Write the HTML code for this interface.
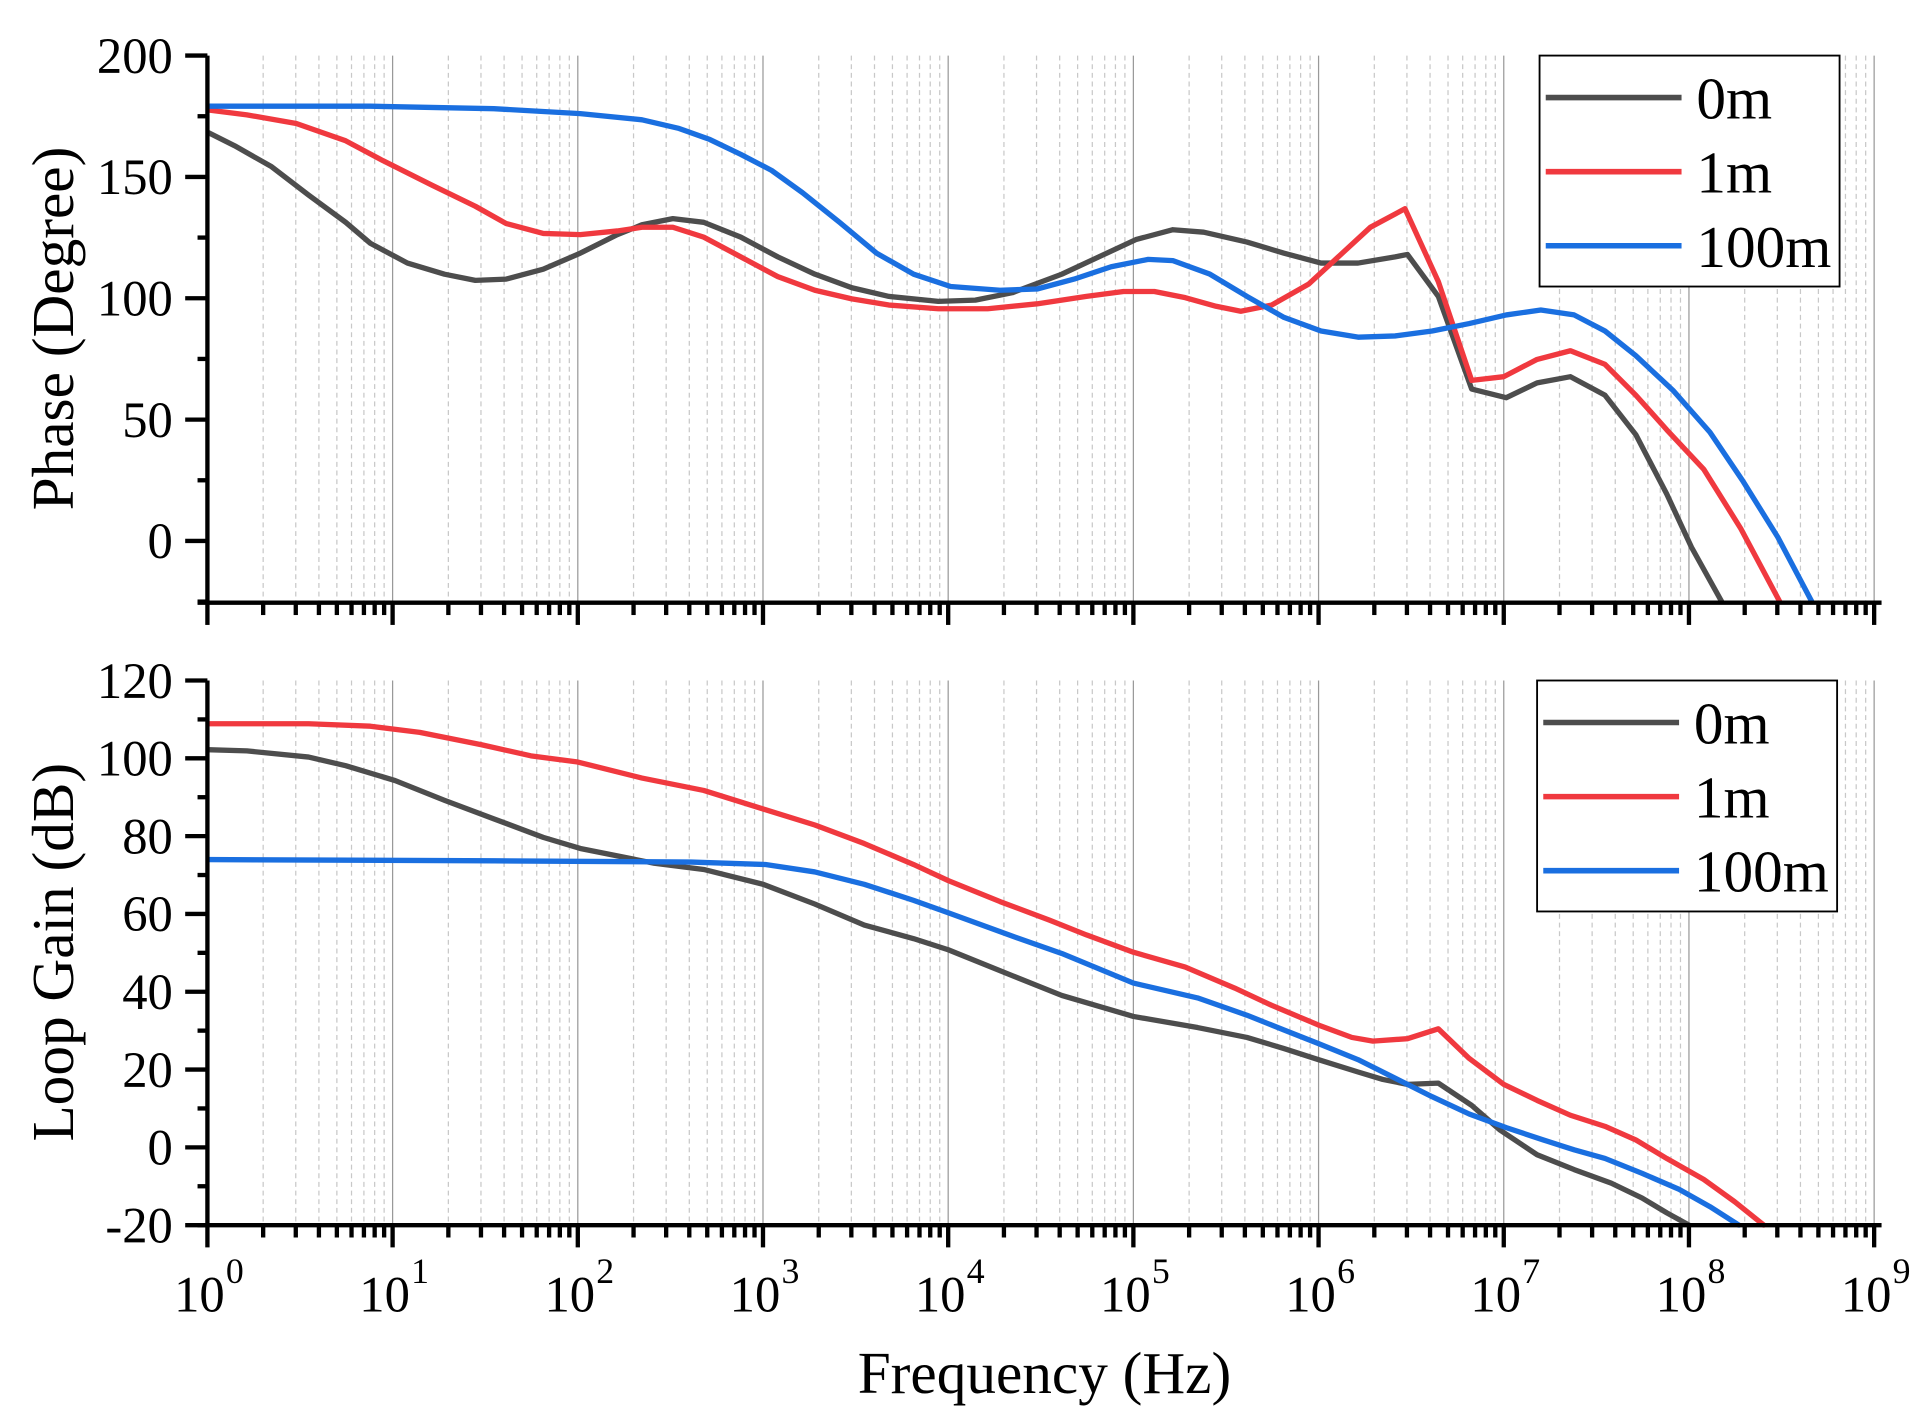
<!DOCTYPE html>
<html><head><meta charset="utf-8"><style>
html,body{margin:0;padding:0;background:#fff}
svg{display:block}
text{font-family:"Liberation Serif",serif;fill:#000}
</style></head><body>
<svg id="s" width="1926" height="1424" viewBox="0 0 1560 1153" preserveAspectRatio="none" xmlns="http://www.w3.org/2000/svg">
<g id="grid"></g>
<g fill="none" stroke-width="4.3" stroke-linejoin="round">
<polyline stroke="#4d4d4d" points="168,107 190,118 220,135 250,158 280,180 300,197 330,213 360,222 385,227 410,226 440,218 470,205 500,190 520,182 545,177 570,180 600,192 630,208 660,222 690,233 720,240 760,244 790,243 820,237 860,222 890,208 920,194 950,186 975,188 1010,196 1040,205 1070,213 1100,213 1130,208 1140,206 1165,240 1192,315 1220,322 1245,310 1272,305 1300,320 1325,352 1350,400 1370,443 1395,488"/>
<polyline stroke="#f0393f" points="168,89 200,93 240,100 280,114 310,130 350,150 385,167 410,181 440,189 470,190 500,187 520,184 545,184 570,192 600,208 630,224 660,235 690,242 720,247 760,250 800,250 840,246 880,240 910,236 935,236 960,241 985,248 1005,252 1030,247 1060,230 1085,207 1110,184 1138,169 1165,228 1192,308 1218,305 1245,291 1272,284 1300,295 1325,320 1350,348 1380,380 1410,428 1442,488"/>
<polyline stroke="#1a6fe0" points="168,86 300,86 400,88 470,92 520,97 550,104 575,113 600,125 625,138 650,156 680,180 710,205 740,222 770,232 810,235 840,234 870,226 900,216 930,210 950,211 980,222 1010,240 1040,257 1070,268 1100,273 1130,272 1160,268 1190,262 1220,255 1248,251 1275,255 1300,268 1325,288 1355,316 1385,350 1412,390 1440,435 1468,488"/>
<polyline stroke="#4d4d4d" points="168,607 200,608 250,613 280,620 320,632 360,648 400,663 440,678 470,687 500,693 530,699 570,704 618,716 660,732 700,749 740,760 768,769 820,790 860,806 918,823 970,832 1010,840 1040,849 1068,858 1100,868 1120,874 1140,878 1165,877 1192,895 1215,915 1245,935 1275,947 1305,958 1330,970 1350,982 1370,993"/>
<polyline stroke="#f0393f" points="168,586 250,586 300,588 340,593 390,603 430,612 468,617 520,630 570,640 618,655 660,668 700,683 740,700 768,713 810,730 850,745 880,757 918,771 960,783 1000,800 1030,814 1068,830 1095,840 1112,843 1140,841 1165,833 1190,857 1218,878 1245,891 1272,903 1300,912 1325,923 1350,938 1380,955 1405,973 1430,993"/>
<polyline stroke="#1a6fe0" points="168,696 400,697 560,698 620,700 660,706 700,716 740,729 768,739 820,758 860,772 918,796 970,808 1010,822 1040,834 1068,845 1100,858 1140,878 1160,888 1190,902 1220,913 1250,923 1275,931 1300,938 1330,950 1360,963 1385,977 1410,993"/>
</g>
<rect x="0" y="490" width="1560" height="58" fill="#fff"/>
<rect x="0" y="994" width="1560" height="160" fill="#fff"/>
<g id="axes" stroke="#000" stroke-width="3.5" fill="none"></g>
<g id="labels" font-size="41" text-anchor="end"></g>
<text x="0" y="0" font-size="48" text-anchor="middle" transform="translate(59,266) rotate(-90)">Phase (Degree)</text>
<text x="0" y="0" font-size="48" text-anchor="middle" transform="translate(59,771) rotate(-90)">Loop Gain (dB)</text>
<text x="846" y="1128" font-size="48" text-anchor="middle">Frequency (Hz)</text>
<g stroke="#000" stroke-width="1.5" fill="#fff"><rect x="1247" y="45" width="243" height="187"/><rect x="1245" y="551" width="243" height="187"/></g>
<g stroke-width="4.5">
<line x1="1252" y1="79" x2="1362" y2="79" stroke="#4d4d4d"/><line x1="1252" y1="139" x2="1362" y2="139" stroke="#f0393f"/><line x1="1252" y1="199" x2="1362" y2="199" stroke="#1a6fe0"/>
<line x1="1250" y1="585" x2="1360" y2="585" stroke="#4d4d4d"/><line x1="1250" y1="645" x2="1360" y2="645" stroke="#f0393f"/><line x1="1250" y1="705" x2="1360" y2="705" stroke="#1a6fe0"/>
</g>
<g font-size="48">
<text x="1374" y="96">0m</text><text x="1374" y="156">1m</text><text x="1374" y="216">100m</text>
<text x="1372" y="602">0m</text><text x="1372" y="662">1m</text><text x="1372" y="722">100m</text>
</g>
</svg>
<script>
const NS="http://www.w3.org/2000/svg";
function el(p,t,a,txt){const e=document.createElementNS(NS,t);for(const k in a)e.setAttribute(k,a[k]);if(txt!==undefined)e.innerHTML=txt;document.getElementById(p).appendChild(e);return e;}
const X=f=>168+150*Math.log10(f);
const panels=[{top:45,bot:488},{top:551,bot:992}];
for(const P of panels){
 for(let d=0;d<9;d++)for(let m=1;m<=9;m++){const x=X(m*Math.pow(10,d));
  if(m===1){if(d>0)el("grid","line",{x1:x,x2:x,y1:P.top,y2:P.bot,stroke:"#999","stroke-width":1});}
  else el("grid","line",{x1:x,x2:x,y1:P.top,y2:P.bot,stroke:"#c8c8c8","stroke-width":1,"stroke-dasharray":"4,3"});}
 el("grid","line",{x1:1518,x2:1518,y1:P.top,y2:P.bot,stroke:"#999","stroke-width":1});
 el("axes","line",{x1:168,x2:168,y1:P.top,y2:P.bot+1});
 el("axes","line",{x1:160,x2:1524,y1:P.bot,y2:P.bot});
 for(let d=0;d<=9;d++){const x=X(Math.pow(10,d));el("axes","line",{x1:x,x2:x,y1:P.bot,y2:P.bot+18});
  if(d<9)for(let m=2;m<=9;m++){const xx=X(m*Math.pow(10,d));el("axes","line",{x1:xx,x2:xx,y1:P.bot,y2:P.bot+10});}}
}
const yT=v=>438-v*1.965;
for(let v=-25;v<=200;v+=25){const y=yT(v);const maj=v%50===0;el("axes","line",{x1:maj?150:160,x2:168,y1:y,y2:y});
 if(maj)el("labels","text",{x:140,y:y+14},String(v));}
const yB=v=>929-v*3.15;
for(let v=-20;v<=120;v+=10){const y=yB(v);const maj=v%20===0;el("axes","line",{x1:maj?150:160,x2:168,y1:y,y2:y});
 if(maj)el("labels","text",{x:140,y:y+14},String(v));}
for(let d=0;d<=9;d++){const x=X(Math.pow(10,d));el("labels","text",{x:x+14,y:1062,"text-anchor":"end"},"10");
 el("labels","text",{x:x+15,y:1039,"text-anchor":"start","font-size":29},String(d));}
</script>
</body></html>
